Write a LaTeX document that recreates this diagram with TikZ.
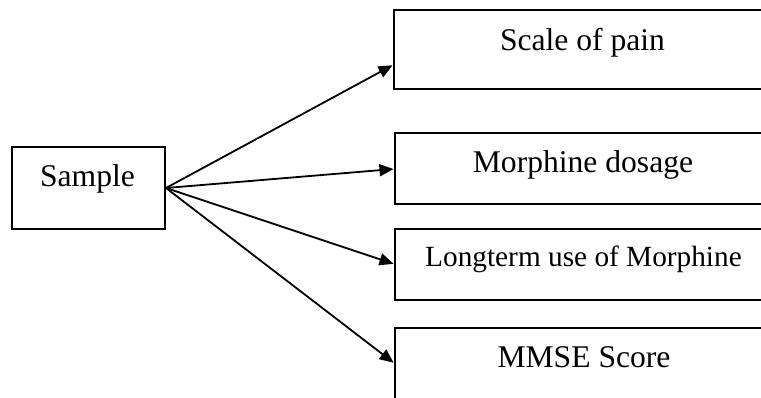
\documentclass[tikz,border=0pt]{standalone}
\usepackage{fontspec}
\setmainfont{Liberation Serif}
\usetikzlibrary{arrows.meta}
\begin{document}
\begin{tikzpicture}[x=1pt,y=-1pt,
  box/.style={draw, line width=2pt, inner sep=0pt, anchor=north west},
  label/.style={anchor=base, inner sep=0pt, font=\fontsize{31.6}{36}\selectfont},
  link/.style={line width=1.8pt, -{Triangle[length=14pt,width=12pt]}, shorten >=0.5pt}]
  \useasboundingbox (0,0) rectangle (761,398);

  % source box
  \node[box, minimum width=153pt, minimum height=82pt] (sample) at (11,146) {};
  \node[label] (tsample) at (87.5,187) {Sample};

  % target boxes (run past the right and bottom margins)
  \node[box, minimum width=380pt, minimum height=79pt] (b1) at (393,9) {};
  \node[box, minimum width=380pt, minimum height=71pt] (b2) at (394,132) {};
  \node[box, minimum width=380pt, minimum height=71pt] (b3) at (394,228) {};
  \node[box, minimum width=380pt, minimum height=90pt] (b4) at (394,327) {};

  \node[label] (t1) at (582.5,51) {Scale of pain};
  \node[label] (t2) at (583,173) {Morphine dosage};
  \node[label, font=\fontsize{29.3}{34}\selectfont] (t3) at (583.5,267) {Longterm use of Morphine};
  \node[label] (t4) at (584,367) {MMSE Score};

  % arrows
  \draw[link] (sample.east) -- ([yshift=-56pt]b1.north west);
  \draw[link] (sample.east) -- ([yshift=-37pt]b2.north west);
  \draw[link] (sample.east) -- ([yshift=-36pt]b3.north west);
  \draw[link] (sample.east) -- ([yshift=-36pt]b4.north west);
\end{tikzpicture}
\end{document}
